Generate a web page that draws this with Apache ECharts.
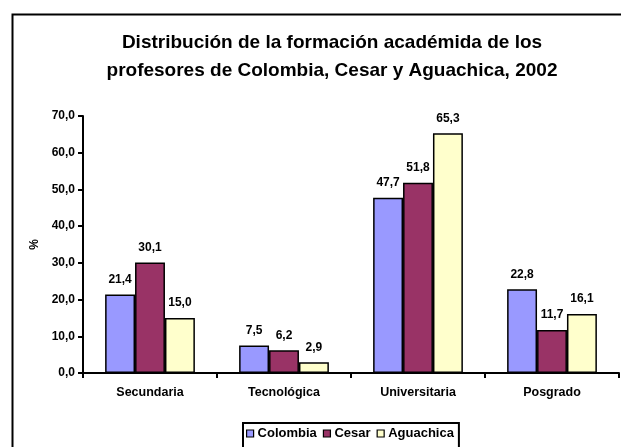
<!DOCTYPE html>
<html>
<head>
<meta charset="utf-8">
<script src="https://cdn.jsdelivr.net/npm/echarts@6/dist/echarts.min.js"></script>
<style>html,body{margin:0;padding:0;background:#fff;}#c{width:621px;height:447px;}</style>
</head>
<body>
<div id="c"></div>
<script>
const categories = ['Secundaria', 'Tecnológica', 'Universitaria', 'Posgrado'];
const colombia = [21.4, 7.5, 47.7, 22.8];
const cesar = [30.1, 6.2, 51.8, 11.7];
const aguachica = [15.0, 2.9, 65.3, 16.1];
const yTicks = [0, 10, 20, 30, 40, 50, 60, 70];

const FONT = '"Liberation Sans", Arial, sans-serif';
const fmt = v => Number(v).toFixed(1).replace('.', ',');

const chart = echarts.init(document.getElementById('c'), null, {renderer: 'canvas'});

function mk(name, data, color) {
  return {
    name: name, type: 'bar', data: data,
    barGap: '0%', barCategoryGap: '33%',
    itemStyle: {color: color, borderColor: '#000', borderWidth: 1.5},
    label: {
      show: true, position: 'top', distance: 9,
      formatter: p => fmt(p.value),
      color: '#000', fontFamily: FONT, fontWeight: 'bold', fontSize: 12
    }
  };
}

chart.setOption({
  animation: false,
  backgroundColor: '#fff',
  title: {
    text: 'Distribución de la formación académida de los\nprofesores de Colombia, Cesar y Aguachica, 2002',
    left: 327, top: 24, textAlign: 'center',
    textStyle: {fontFamily: FONT, fontWeight: 'bold', fontSize: 19, lineHeight: 28, color: '#000'}
  },
  graphic: [{
    type: 'rect', left: 10, top: 12, z: 100,
    shape: {width: 700, height: 500},
    style: {fill: 'none', stroke: '#000', lineWidth: 2}
  }],
  legend: {
    left: 243, top: 423,
    data: ['Colombia', 'Cesar', 'Aguachica'],
    icon: 'rect', itemWidth: 7, itemHeight: 7, itemGap: 6,
    padding: [4, 5, 20, 3],
    borderColor: '#000', borderWidth: 2,
    itemStyle: {borderColor: '#000', borderWidth: 1.2},
    textStyle: {fontFamily: FONT, fontWeight: 'bold', fontSize: 13, color: '#000', padding: [0, 0, 0, -1]}
  },
  grid: {left: 83, right: 2, top: 116, bottom: 74, containLabel: false},
  xAxis: {
    type: 'category', data: categories,
    axisLine: {lineStyle: {color: '#000', width: 2}},
    axisTick: {show: true, alignWithLabel: false, length: 5, lineStyle: {color: '#000', width: 2}},
    axisLabel: {margin: 13, color: '#000', fontFamily: FONT, fontWeight: 'bold', fontSize: 12.5}
  },
  yAxis: {
    type: 'value', min: yTicks[0], max: yTicks[yTicks.length - 1], interval: 10,
    name: '%', nameLocation: 'middle', nameRotate: 90, nameGap: 42,
    nameTextStyle: {color: '#000', fontFamily: FONT, fontWeight: 'bold', fontSize: 12},
    axisLine: {show: true, lineStyle: {color: '#000', width: 2}},
    axisTick: {show: true, length: 5, lineStyle: {color: '#000', width: 2}},
    splitLine: {show: false},
    axisLabel: {margin: 8, formatter: v => fmt(v), color: '#000', fontFamily: FONT, fontWeight: 'bold', fontSize: 12}
  },
  series: [
    mk('Colombia', colombia, '#9999FF'),
    mk('Cesar', cesar, '#993366'),
    mk('Aguachica', aguachica, '#FFFFCC')
  ]
});
</script>
</body>
</html>
